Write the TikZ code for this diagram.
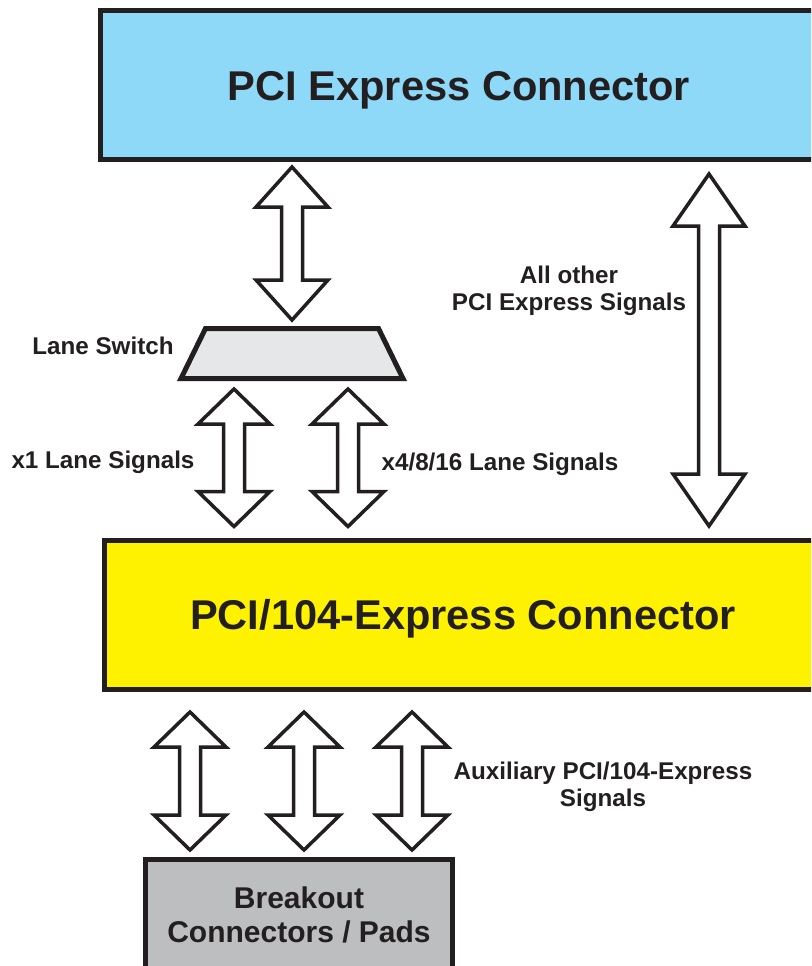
\documentclass[tikz,border=0pt]{standalone}
\usepackage{fontspec}
\setmainfont{Liberation Sans}
\usepackage{tikz}
\usetikzlibrary{calc}

\definecolor{pciblue}{HTML}{8ED8F8}
\definecolor{pciyellow}{HTML}{FFF200}
\definecolor{switchgray}{HTML}{E6E7E8}
\definecolor{padgray}{HTML}{BCBEC0}
\definecolor{ink}{HTML}{231F20}

% double block arrow: top tip, bottom tip, head length
\newcommand{\dblarrow}[3]{%
  \draw[fatarrow] (#1) -- ++(36,#3) -- ++(-25.5,0)
    -- ($(#2)+(10.5,-#3)$) -- ++(25.5,0) -- (#2)
    -- ++(-36,-#3) -- ++(25.5,0)
    -- ($(#1)+(-10.5,#3)$) -- ++(-25.5,0) -- cycle;}

\begin{document}
\begin{tikzpicture}[x=1pt, y=-1pt, text=ink,
    conn/.style={draw=ink, line width=5pt, minimum width=718pt, minimum height=149pt,
      font=\fontsize{41.6}{50}\selectfont\bfseries, text height=30pt, text depth=0pt},
    sig/.style={align=center, font=\fontsize{24.2}{26.5}\selectfont\bfseries, inner sep=0pt},
    fatarrow/.style={draw=ink, line width=3.5pt, fill=white, line join=miter}]
    \clip (0,0) rectangle (811,966);
    \fill[white] (0,0) rectangle (811,966);

    \node[conn, fill=pciblue] (pcie) at (459,85) {PCI Express Connector};
    \node[conn, fill=pciyellow] (plx) at (463,614.5) {PCI/104-Express Connector};
    \node[draw=ink, line width=5pt, fill=padgray, minimum width=307pt, minimum height=110pt,
      align=center, font=\fontsize{30}{34}\selectfont\bfseries, text depth=0pt]
      (pads) at (299,914.5) {Breakout\\Connectors / Pads};

    % lane switch
    \node[minimum width=222pt, minimum height=50pt, inner sep=0pt, outer sep=0pt]
      (lsw) at (292,353.5) {};
    \draw[draw=ink, line width=5pt, fill=switchgray] (lsw.south west)
      -- ($(lsw.north west)+(24.5,0)$) -- ($(lsw.north east)+(-24.5,0)$)
      -- (lsw.south east) -- cycle;

    \node[sig] (lswtxt) at (103,346) {Lane Switch};
    \node[sig] (x1txt) at (103,462.5) {x1 Lane Signals};
    \node[sig] (x4txt) at (500,464.5) {x4/8/16 Lane Signals};
    \node[sig] (othtxt) at (569,291) {All other\\PCI Express Signals};
    \node[sig] (auxtxt) at (603,787) {Auxiliary PCI/104-Express\\Signals};

    \coordinate (swt) at ($(lsw.north |- pcie.south)+(0,5)$);
    \coordinate (swb) at ($(lsw.north)+(0,-8.5)$);
    \coordinate (otht) at (709,174);
    \coordinate (othb) at (709,526);
    \coordinate (x1t) at ($(lsw.south)+(-58,10.5)$);
    \coordinate (x1b) at ($(x1t |- plx.north)+(0,-11)$);
    \coordinate (x4t) at ($(lsw.south)+(56,10.5)$);
    \coordinate (x4b) at ($(x4t |- plx.north)+(0,-11)$);

    \dblarrow{swt}{swb}{40}
    \dblarrow{otht}{othb}{52}
    \dblarrow{x1t}{x1b}{35}
    \dblarrow{x4t}{x4b}{35}
    \foreach \ax [count=\i] in {190,304,412}{
        \coordinate (aux\i t) at (\ax,712);
        \coordinate (aux\i b) at (\ax,850);
        \dblarrow{aux\i t}{aux\i b}{35}
    }
\end{tikzpicture}
\end{document}
